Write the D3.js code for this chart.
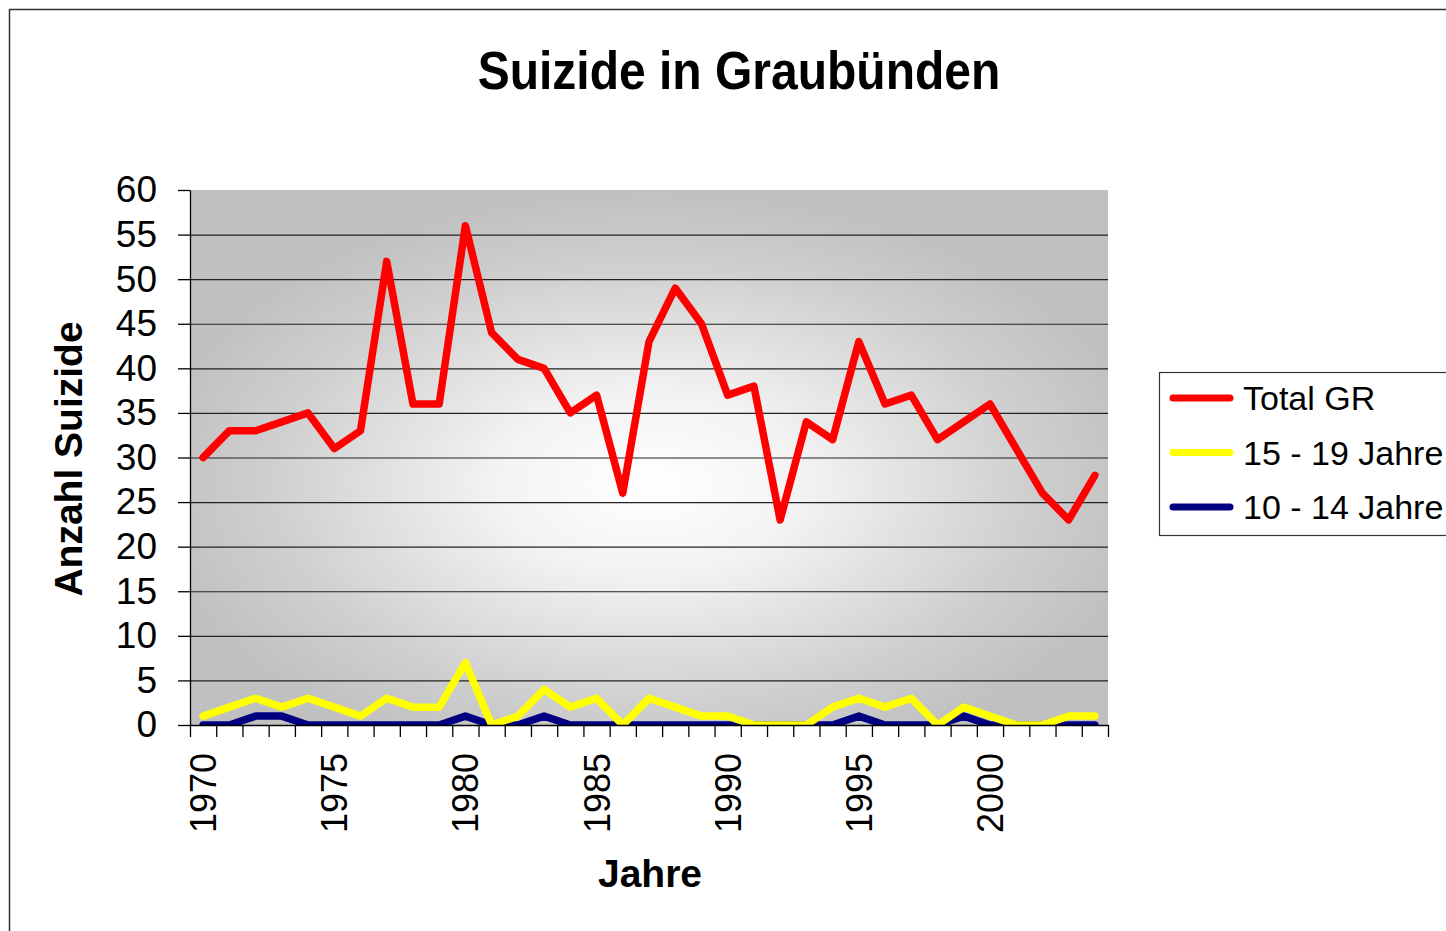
<!DOCTYPE html>
<html lang="de">
<head>
  <meta charset="UTF-8">
  <title>Suizide in Graubünden</title>
  <style>
    body {
      margin: 0;
      padding: 0;
      background-color: #ffffff;
      font-family: "Liberation Sans", Arial, sans-serif;
    }
    svg {
      display: block;
    }
  </style>
</head>
<body>
<div id="chart"></div>
<script src="https://d3js.org/d3.v7.min.js"></script>
<script>
  // data
  const years = d3.range(1970, 2005);
  const totalGR = [30, 33, 33, 34, 35, 31, 33, 52, 36, 36,
                   56, 44, 41, 40, 35, 37, 26, 43, 49, 45,
                   37, 38, 23, 34, 32, 43, 36, 37, 32, 34,
                   36, 31, 26, 23, 28];
  const age15to19 = [1, 2, 3, 2, 3, 2, 1, 3, 2, 2,
                     7, 0, 1, 4, 2, 3, 0, 3, 2, 1,
                     1, 0, 0, 0, 2, 3, 2, 3, 0, 2,
                     1, 0, 0, 1, 1];
  const age10to14 = [0, 0, 1, 1, 0, 0, 0, 0, 0, 0,
                     1, 0, 0, 1, 0, 0, 0, 0, 0, 0,
                     0, 0, 0, 0, 0, 1, 0, 0, 0, 1,
                     0, 0, 0, 0, 0];
  const yTicks = d3.range(0, 61, 5);
  const gridTicks = d3.range(5, 56, 5);
  const xLabelYears = [1970, 1975, 1980, 1985, 1990, 1995, 2000];

  const seriesNames = ["Total GR", "15 - 19 Jahre", "10 - 14 Jahre"];
  const seriesColors = ["#ff0000", "#ffff00", "#000080"];
  const seriesValues = [totalGR, age15to19, age10to14];

  const width = 1446;
  const height = 931;
  const plot = { left: 190, right: 1108, top: 190, bottom: 725 };

  const svg = d3.select("#chart").append("svg")
          .attr("width", width)
          .attr("height", height);

  // outer chart border (runs off the right and bottom edge)
  svg.append("rect")
          .attr("x", 9.5).attr("y", 9.5)
          .attr("width", 1500).attr("height", 1000)
          .attr("fill", "none")
          .attr("stroke", "#333")
          .attr("stroke-width", 1.5);

  const defs = svg.append("defs");
  const grad = defs.append("radialGradient")
          .attr("id", "bg")
          .attr("cx", 0.5).attr("cy", 0.55).attr("r", 0.55);
  grad.append("stop").attr("offset", 0).attr("stop-color", "#ffffff");
  grad.append("stop").attr("offset", 0.3).attr("stop-color", "#f3f3f3");
  grad.append("stop").attr("offset", 0.75).attr("stop-color", "#cfcfcf");
  grad.append("stop").attr("offset", 1).attr("stop-color", "#c0c0c0");

  defs.append("clipPath").attr("id", "clip")
          .append("rect")
          .attr("x", plot.left).attr("y", plot.top)
          .attr("width", plot.right - plot.left)
          .attr("height", plot.bottom - plot.top);

  const x = d3.scaleBand().domain(years).range([plot.left, plot.right]).padding(0);
  const xEdge = d3.scaleLinear().domain([0, years.length]).range([plot.left, plot.right]);
  const y = d3.scaleLinear().domain([0, 60]).range([plot.bottom, plot.top]);

  svg.append("rect")
          .attr("x", plot.left).attr("y", plot.top)
          .attr("width", plot.right - plot.left)
          .attr("height", plot.bottom - plot.top)
          .attr("fill", "url(#bg)");

  // gridlines
  svg.append("g")
          .attr("transform", `translate(${plot.left},0)`)
          .call(d3.axisLeft(y).tickValues(gridTicks).tickSize(-(plot.right - plot.left)).tickFormat(""))
          .call(g => g.select(".domain").remove())
          .call(g => g.selectAll("line").attr("stroke", "#222").attr("stroke-width", 1.2));

  // lines
  const line = d3.line()
          .x((d, i) => x(years[i]) + x.bandwidth() / 2)
          .y(d => y(d));

  const order = [2, 1, 0];
  svg.append("g")
          .attr("clip-path", "url(#clip)")
          .selectAll("path")
          .data(order)
          .enter()
          .append("path")
          .attr("d", i => line(seriesValues[i]))
          .attr("fill", "none")
          .attr("stroke", i => seriesColors[i])
          .attr("stroke-width", 7.5)
          .attr("stroke-linecap", "round")
          .attr("stroke-linejoin", "round");

  // y axis
  svg.append("g")
          .attr("transform", `translate(${plot.left},0)`)
          .call(d3.axisLeft(y).tickValues(yTicks).tickSize(12).tickPadding(21).tickSizeOuter(0))
          .call(g => g.selectAll("path, line").attr("stroke", "#000").attr("stroke-width", 1.3))
          .call(g => g.selectAll("text")
                  .attr("fill", "#000")
                  .style("font-family", "'Liberation Sans', Arial, sans-serif")
                  .style("font-size", "37px"));

  // x axis: ticks on band edges
  svg.append("g")
          .attr("transform", `translate(0,${plot.bottom})`)
          .call(d3.axisBottom(xEdge).tickValues(d3.range(years.length + 1)).tickSize(12).tickFormat("").tickSizeOuter(0))
          .call(g => g.selectAll("path, line").attr("stroke", "#000").attr("stroke-width", 1.3));

  // x labels, rotated
  svg.append("g")
          .selectAll("text")
          .data(xLabelYears)
          .enter()
          .append("text")
          .attr("transform", d => `translate(${x(d) + x.bandwidth() / 2},753) rotate(-90)`)
          .attr("text-anchor", "end")
          .attr("dy", "0.36em")
          .style("font-size", "36px")
          .text(d => d);

  // title
  svg.append("text")
          .attr("transform", "translate(739,89) scale(1,1.13)")
          .attr("text-anchor", "middle")
          .style("font-size", "48px")
          .style("font-weight", "bold")
          .text("Suizide in Graubünden");

  // axis titles
  svg.append("text")
          .attr("transform", "translate(82,459) rotate(-90)")
          .attr("text-anchor", "middle")
          .style("font-size", "39px")
          .style("font-weight", "bold")
          .text("Anzahl Suizide");

  svg.append("text")
          .attr("x", 650).attr("y", 887)
          .attr("text-anchor", "middle")
          .style("font-size", "39px")
          .style("font-weight", "bold")
          .text("Jahre");

  // legend
  const legend = svg.append("g");
  legend.append("rect")
          .attr("x", 1159.5).attr("y", 372.5)
          .attr("width", 400).attr("height", 163)
          .attr("fill", "#fff")
          .attr("stroke", "#333")
          .attr("stroke-width", 1.2);

  const legendY = d3.scalePoint().domain(seriesNames).range([398, 507]);
  const items = legend.selectAll("g.item")
          .data(seriesNames)
          .enter()
          .append("g")
          .attr("class", "item")
          .attr("transform", d => `translate(0,${legendY(d)})`);
  items.append("line")
          .attr("x1", 1173).attr("x2", 1230)
          .attr("stroke", (d, i) => seriesColors[i])
          .attr("stroke-width", 7)
          .attr("stroke-linecap", "round");
  items.append("text")
          .attr("x", 1243)
          .attr("dy", "0.36em")
          .style("font-size", "34px")
          .text(d => d);
</script>
</body>
</html>
